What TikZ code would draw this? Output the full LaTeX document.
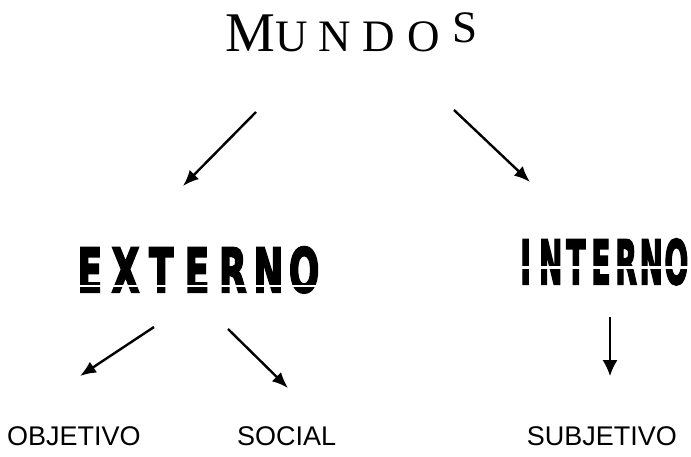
\documentclass[tikz,border=0pt]{standalone}
\usepackage{fontspec}
\setmainfont{Liberation Serif}
\newfontfamily\labelfont{Liberation Sans}
\newfontfamily\heavyfont{DejaVu Sans}[BoldFeatures={FakeBold=4}]
\usetikzlibrary{arrows.meta}
\newcommand{\lt}[1]{\makebox[10pt]{#1}}
\newcommand{\ltn}[1]{\makebox[9pt]{#1}}
\begin{document}
\begin{tikzpicture}[x=1pt,y=-1pt,
  arr/.style={line width=2.4pt,-{Latex[length=16pt,width=13pt]}},
  thinarr/.style={line width=1.5pt,-{Latex[length=16pt,width=15pt]}},
  lbl/.style={inner sep=0pt,font=\labelfont\fontsize{27}{27}\selectfont},
  big/.style={inner sep=0pt}]
\useasboundingbox[fill=white] (0,0) rectangle (691,457);
% title
\node[big,anchor=base west] (mundos) at (225,52)
  {{\fontsize{56}{56}\selectfont M}{\fontsize{45}{45}\selectfont\kern1pt U\kern10pt N\kern12pt D\kern12pt O\kern13pt\raisebox{9pt}{S}}};
% second level
\node[big,anchor=south] (externo) at (197,293)
  {\resizebox{250pt}{45pt}{\heavyfont\bfseries\lt{E}\lt{X}\lt{T}\lt{E}\lt{R}\lt{N}\lt{O}}};
\node[big,anchor=south] (interno) at (601,285)
  {\resizebox{176pt}{45pt}{\heavyfont\bfseries\ltn{I}\ltn{N}\ltn{T}\ltn{E}\ltn{R}\ltn{N}\ltn{O}}};
\fill[white] (60,284.5) rectangle (330,286.5);
\fill[white] (505,266) rectangle (691,269);
% third level
\node[lbl,anchor=base west] (objetivo) at (7,445) {OBJETIVO};
\node[lbl,anchor=base west] (social) at (237,445) {SOCIAL};
\node[lbl,anchor=base east] (subjetivo) at (677,445) {SUBJETIVO};
% arrow end points
\coordinate (m1) at (256,112);
\coordinate (e1) at (183,186);
\coordinate (m2) at (454,110);
\coordinate (i2) at (530,182);
\coordinate (x1) at (154,327);
\coordinate (o1) at (80,376);
\coordinate (x2) at (228,329);
\coordinate (s2) at (288,388);
\coordinate (n1) at (610,317);
\coordinate (j1) at (610,376);
\draw[arr] (m1) -- (e1);
\draw[arr] (m2) -- (i2);
\draw[arr] (x1) -- (o1);
\draw[arr] (x2) -- (s2);
\draw[thinarr] (n1) -- (j1);
\end{tikzpicture}
\end{document}
